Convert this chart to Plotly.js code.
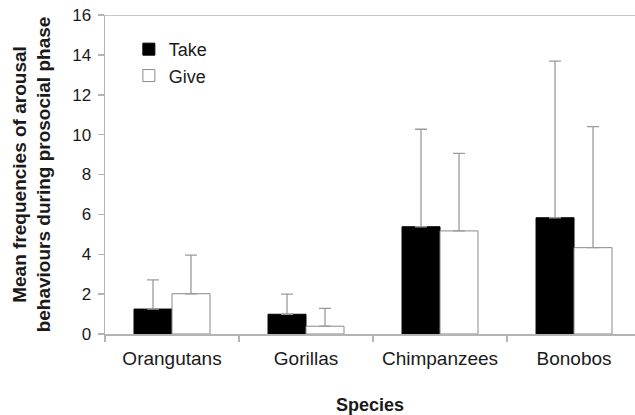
<!DOCTYPE html>
<html>
<head>
<meta charset="utf-8">
<script src="https://cdn.plot.ly/plotly-3.0.1.min.js"></script>
<style>html,body{margin:0;padding:0;background:#fff;}#chart{width:635px;height:415px;}</style>
</head>
<body>
<div id="chart"></div>
<script>
const species = ["Orangutans", "Gorillas", "Chimpanzees", "Bonobos"];
const takeMeans = [1.25, 0.99, 5.38, 5.83];
const takeErrUp = [1.46, 1.01, 4.89, 7.86];
const giveMeans = [2.02, 0.39, 5.17, 4.33];
const giveErrUp = [1.94, 0.90, 3.89, 6.07];
const yTicks = [0, 2, 4, 6, 8, 10, 12, 14, 16];

const axisGray = "#b4b4b4";
const errGray = "#9a9a9a";
const textColor = "#1a1a1a";
const zeros = species.map(() => 0);

const traces = [
  {
    type: "bar", name: "Take", x: species, y: takeMeans,
    marker: {color: "#000000", line: {color: "#000000", width: 1}},
    error_y: {type: "data", symmetric: false, array: takeErrUp, arrayminus: zeros,
              color: errGray, thickness: 1.3, width: 6}
  },
  {
    type: "bar", name: "Give", x: species, y: giveMeans,
    marker: {color: "#ffffff", line: {color: "#8a8a8a", width: 1}},
    error_y: {type: "data", symmetric: false, array: giveErrUp, arrayminus: zeros,
              color: errGray, thickness: 1.3, width: 6}
  }
];

const layout = {
  width: 635, height: 415,
  margin: {l: 105, r: 0, t: 15, b: 81},
  paper_bgcolor: "#ffffff", plot_bgcolor: "#ffffff",
  font: {family: "Liberation Sans, Arial, sans-serif", color: textColor},
  barmode: "group", bargap: 0.433, bargroupgap: 0,
  showlegend: true,
  legend: {x: 0.045, y: 0.95, xanchor: "left", yanchor: "top",
           font: {size: 18, color: textColor}, bgcolor: "rgba(0,0,0,0)", traceorder: "normal"},
  xaxis: {
    type: "category", range: [-0.5, 3.455],
    showline: true, linecolor: axisGray, linewidth: 1.5,
    ticks: "outside", tickson: "boundaries", ticklen: 6, tickcolor: axisGray, tickwidth: 1.5,
    ticklabelstandoff: 7,
    tickfont: {size: 19, color: textColor}, showgrid: false, zeroline: false,
    title: {text: "<b>Species</b>", font: {size: 18, color: textColor}, standoff: 37}
  },
  yaxis: {
    range: [0, 16], tickvals: yTicks, ticktext: yTicks.map(String),
    showline: true, linecolor: axisGray, linewidth: 1.5,
    ticks: "outside", ticklen: 6, tickcolor: axisGray, tickwidth: 1.5,
    ticklabelstandoff: 3,
    tickfont: {size: 17, color: textColor}, showgrid: false, zeroline: false,
    title: {text: "<b>Mean frequencies of arousal<br>behaviours during prosocial phase</b>",
            font: {size: 19, color: textColor}, standoff: 16}
  },
  shapes: [{type: "line", xref: "paper", yref: "y", x0: 0, x1: 1, y0: 16, y1: 16,
            line: {color: axisGray, width: 1.5}}]
};

Plotly.newPlot("chart", traces, layout, {displayModeBar: false, staticPlot: true});
</script>
</body>
</html>
